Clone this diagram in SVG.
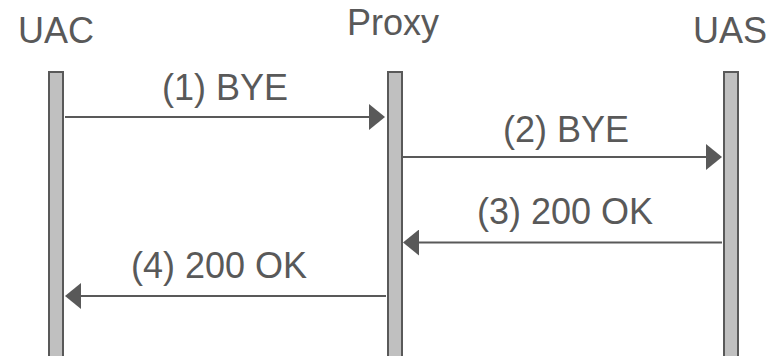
<svg xmlns="http://www.w3.org/2000/svg" width="783" height="356" viewBox="0 0 783 356">
  <style>
    .label { font-family: "Liberation Sans", Arial, sans-serif; font-size: 36px; fill: #595959; }
    .bar { fill: #c0c0c0; stroke: #595959; stroke-width: 2; }
    .msg { stroke: #595959; stroke-width: 2; fill: none; marker-end: url(#head); }
  </style>
  <defs>
    <marker id="head" markerUnits="userSpaceOnUse" markerWidth="16" markerHeight="26" viewBox="0 -13 16 26" refX="0" refY="0" orient="auto">
      <path d="M0,-13 L16,0 L0,13 Z" fill="#595959"/>
    </marker>
  </defs>

  <rect width="783" height="356" fill="#ffffff"/>

  <!-- participants -->
  <g id="uac">
    <text class="label" x="18" y="43">UAC</text>
    <rect class="bar" x="49" y="72" width="14" height="290"/>
  </g>
  <g id="proxy">
    <text class="label" x="347" y="35">Proxy</text>
    <rect class="bar" x="388" y="72" width="14" height="290"/>
  </g>
  <g id="uas">
    <text class="label" x="693" y="43">UAS</text>
    <rect class="bar" x="724" y="72" width="14" height="290"/>
  </g>

  <!-- messages -->
  <g id="messages">
    <line class="msg" x1="65" y1="117" x2="369" y2="117"/>
    <text class="label" x="162" y="100">(1) BYE</text>
    <line class="msg" x1="403" y1="157" x2="706" y2="157"/>
    <text class="label" x="503" y="142">(2) BYE</text>
    <line class="msg" x1="722" y1="242.5" x2="419" y2="242.5"/>
    <text class="label" x="477" y="224">(3) 200 OK</text>
    <line class="msg" x1="386" y1="296" x2="81" y2="296"/>
    <text class="label" x="131" y="278">(4) 200 OK</text>
  </g>
</svg>
